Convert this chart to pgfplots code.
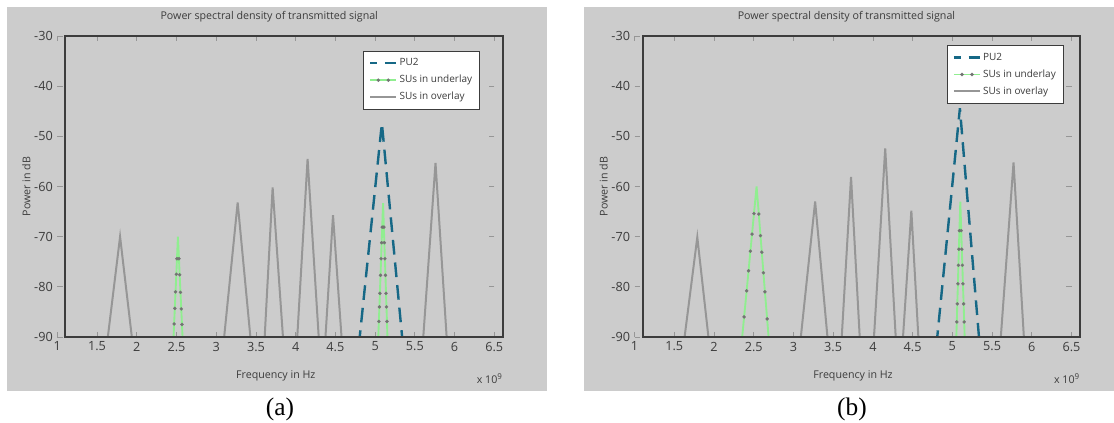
\documentclass[border=0pt]{standalone}
\usepackage{fontspec}
\setmainfont{Open Sans}
\newfontfamily\capfont{Liberation Serif}
\usepackage{pgfplots}
\pgfplotsset{compat=1.18}

\definecolor{panelgray}{RGB}{204,204,204}
\definecolor{overlaygray}{RGB}{150,150,150}
\definecolor{underlaygreen}{RGB}{144,238,144}
\definecolor{markgray}{RGB}{115,115,115}
\definecolor{pucolor}{RGB}{22,104,134}
\definecolor{framegray}{RGB}{60,60,60}
\definecolor{textgray}{RGB}{60,60,60}

\pgfplotsset{
  psd/.style={
    scale only axis, width=327.75pt, height=225.75pt,
    anchor=south west, clip=false,
    xmin=1, xmax=6.5, ymin=-90, ymax=-30,
    xtick={1,1.5,2,2.5,3,3.5,4,4.5,5,5.5,6,6.5},
    ytick={-90,-80,-70,-60,-50,-40,-30},
    axis line style={draw=none},
    tick align=inside, major tick length=4pt,
    tick style={color=overlaygray, line width=0.6pt},
    /pgf/number format/assume math mode=true,
    ticklabel style={font=\fontsize{9.5}{11}\selectfont, text=textgray},
    xticklabel style={inner sep=0pt, anchor=north, yshift=-3.5pt},
    yticklabel style={inner sep=0pt, anchor=east, xshift=-3.2pt},
    every axis title shift=0pt,
    title={Power spectral density of transmitted signal},
    title style={font=\fontsize{8}{10}\selectfont, text=textgray,
      at={(axis description cs:0.485,1.063)}, anchor=center},
    xlabel={Frequency in Hz},
    xlabel style={font=\fontsize{8}{10}\selectfont, text=textgray,
      at={(axis description cs:0.5,-0.13)}, anchor=center},
    ylabel={Power in dB},
    ylabel style={font=\fontsize{8}{10}\selectfont, text=textgray,
      at={(axis description cs:-0.071,0.5)}, anchor=center, rotate=0},
    unbounded coords=jump,
    legend cell align=left,
    legend style={anchor=north east, draw=framegray, line width=0.6pt, fill=white,
      font=\fontsize{7.5}{9}\selectfont, text=textgray,
      inner xsep=4pt, inner ysep=4pt, row sep=2.5pt,
      nodes={inner sep=1.5pt, text height=5.6pt, text depth=1.6pt}},
    legend image code/.code={\draw[#1,mark indices={2,4}] plot coordinates
      {(0pt,0pt) (6pt,0pt) (10pt,0pt) (13.5pt,0pt) (19.5pt,0pt)};},
  },
  pu/.style={pucolor, line width=1.8pt, dash pattern=on 11pt off 6pt, dash phase=6pt, mark=none},
  under/.style={underlaygreen, line width=1.4pt, mark=*, mark size=1.2pt,
    mark options={solid, draw=markgray, fill=markgray, line width=0.2pt}},
  over/.style={overlaygray, line width=1.5pt, mark=none},
}

\begin{document}
\begin{tikzpicture}
\path[use as bounding box] (0,0) rectangle (835.5pt,317.25pt);
\fill[panelgray] (5pt,24.2pt) rectangle (410pt,312.2pt);
\fill[panelgray] (438pt,24.2pt) rectangle (835.5pt,312.2pt);

% (a)
\begin{axis}[psd, at={(42.98pt,64.5pt)},
  legend style={at={(axis description cs:0.967,0.951)}}]
\addplot[pu] coordinates {(4.806,-90) (5.085,-47.4) (5.34,-90)};
\addplot[under, mark indices={2,3,4,5,6,8,9,10,11,12}] coordinates {
  (2.463,-90) (2.470,-87.4) (2.479,-84.3) (2.488,-81.0) (2.498,-77.5) (2.506,-74.4)
  (2.518,-70)
  (2.531,-74.4) (2.540,-77.6) (2.550,-81.1) (2.560,-84.4) (2.569,-87.5) (2.576,-90)};
\addplot[under, forget plot, mark indices={2,3,4,5,6,7,8,10,11,12,13,14,15,16}] coordinates {
  (5.040,-90) (5.047,-86.9) (5.054,-84.0) (5.060,-81.3) (5.068,-77.7) (5.075,-74.4)
  (5.082,-71.2) (5.089,-68.1)
  (5.100,-63.3)
  (5.110,-68.1) (5.116,-71.2) (5.123,-74.4) (5.130,-77.7) (5.137,-81.3) (5.143,-84.0)
  (5.149,-86.9) (5.155,-90)};
\addplot[over] coordinates {
  (1.636,-90) (1.79,-70) (1.938,-90) (2,nan)
  (3.10,-90) (3.27,-63.2) (3.43,-90) (3.5,nan)
  (3.61,-90) (3.71,-60.2) (3.84,-90) (3.9,nan)
  (4.02,-90) (4.15,-54.5) (4.29,-90) (4.3,nan)
  (4.375,-90) (4.47,-65.7) (4.577,-90) (5,nan)
  (5.606,-90) (5.76,-55.3) (5.90,-90)};
\legend{PU2, SUs in underlay, SUs in overlay}
\draw[framegray, line width=1.5pt] ([xshift=6pt]axis description cs:0,0)
  rectangle ([xshift=6.45pt]axis description cs:1,1);
\node[anchor=base east, font=\fontsize{8}{10}\selectfont, text=textgray, inner sep=0pt]
  at (axis description cs:1.0197,-0.1545) {x 10\textsuperscript{9}};
\end{axis}

% (b)
\begin{axis}[psd, at={(475.9pt,64.5pt)},
  legend style={at={(axis description cs:0.9817,0.970)}}]
\addplot[pu] coordinates {(4.81,-90) (5.095,-44.4) (5.335,-90)};
\addplot[under, mark indices={2,3,4,5,6,7,9,10,11,12,13,14}] coordinates {
  (2.355,-90) (2.379,-86.0) (2.411,-80.8) (2.435,-76.8) (2.458,-72.9) (2.479,-69.5)
  (2.503,-65.4)
  (2.536,-60)
  (2.564,-65.5) (2.585,-69.8) (2.602,-73.1) (2.622,-77.2) (2.641,-81.0) (2.669,-86.4)
  (2.687,-90)};
\addplot[under, forget plot, mark indices={2,3,4,5,6,7,9,10,11,12,13,14}] coordinates {
  (5.050,-90) (5.056,-87.0) (5.062,-83.4) (5.070,-79.4) (5.076,-75.7) (5.082,-72.5)
  (5.089,-68.8)
  (5.100,-63.0)
  (5.112,-68.8) (5.119,-72.5) (5.126,-75.7) (5.133,-79.4) (5.142,-83.4) (5.149,-87.0)
  (5.155,-90)};
\addplot[over] coordinates {
  (1.63,-90) (1.79,-70.1) (1.93,-90) (2,nan)
  (3.093,-90) (3.273,-63.0) (3.428,-90) (3.5,nan)
  (3.608,-90) (3.725,-58.1) (3.834,-90) (3.9,nan)
  (4.014,-90) (4.155,-52.4) (4.287,-90) (4.3,nan)
  (4.379,-90) (4.484,-64.8) (4.572,-90) (5,nan)
  (5.61,-90) (5.77,-55.2) (5.90,-90)};
\legend{PU2, SUs in underlay, SUs in overlay}
\draw[framegray, line width=1.5pt] ([xshift=6pt]axis description cs:0,0)
  rectangle ([xshift=6.45pt]axis description cs:1,1);
\node[anchor=base east, font=\fontsize{8}{10}\selectfont, text=textgray, inner sep=0pt]
  at (axis description cs:1.0197,-0.1545) {x 10\textsuperscript{9}};
\end{axis}

\node[font=\capfont\fontsize{19}{22}\selectfont] at (210pt,10.5pt) {(a)};
\node[font=\capfont\fontsize{19}{22}\selectfont] at (639pt,10.5pt) {(b)};
\end{tikzpicture}
\end{document}
